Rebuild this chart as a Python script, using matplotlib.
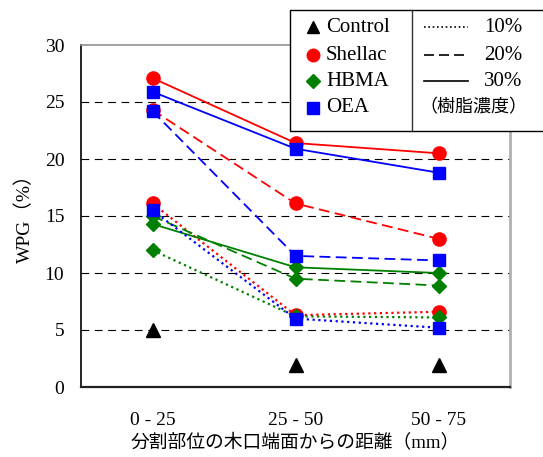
import matplotlib
matplotlib.use("Agg")
import matplotlib.pyplot as plt
from matplotlib.patches import Rectangle
from matplotlib.lines import Line2D

SERIF = "Liberation Serif"
FAM = ["Liberation Serif", "Noto Sans CJK JP"]
plt.rcParams["font.family"] = SERIF

# データ
positions = ["0 - 25", "25 - 50", "50 - 75"]
control = [5.0, 1.9, 1.9]
shellac_10 = [16.1, 6.3, 6.6]
shellac_20 = [24.3, 16.1, 13.0]
shellac_30 = [27.1, 21.4, 20.5]
hbma_10 = [12.0, 6.2, 6.1]
hbma_20 = [15.0, 9.5, 8.9]
hbma_30 = [14.3, 10.5, 10.0]
oea_10 = [15.5, 6.0, 5.2]
oea_20 = [24.2, 11.5, 11.1]
oea_30 = [25.9, 20.9, 18.8]

resins = ["Control", "Shellac", "HBMA", "OEA"]
concs = ["10%", "20%", "30%"]
colors = {"Control": "black", "Shellac": "#ff0000", "HBMA": "#008000", "OEA": "#0000ff"}
markers = {"Control": "^", "Shellac": "o", "HBMA": "D", "OEA": "s"}
msizes = {"Control": 9.5, "Shellac": 9.5, "HBMA": 7.5, "OEA": 8.5}
styles = {"10%": (0, (1, 1.6)), "20%": (0, (6, 3)), "30%": "-"}

series = {
    "Shellac": [shellac_10, shellac_20, shellac_30],
    "HBMA": [hbma_10, hbma_20, hbma_30],
    "OEA": [oea_10, oea_20, oea_30],
}

W, H = 543, 457
fig = plt.figure(figsize=(W / 100, H / 100), dpi=100)
ax = fig.add_axes([81 / W, 1 - 387 / H, (510 - 81) / W, (387 - 45) / H])

x = list(range(len(positions)))

# 格子線
for yv in [5, 10, 15, 20, 25]:
    ax.axhline(yv, color="black", lw=0.8, linestyle=(0, (7, 5)), zorder=1)

ax.plot(x, control, linestyle="none", marker="^", color="black",
        markersize=msizes["Control"], zorder=3)

for name in ["Shellac", "HBMA", "OEA"]:
    for vals, c in zip(series[name], concs):
        lw = 1.6 if c == "10%" else 1.3
        ax.plot(x, vals, linestyle=styles[c], color=colors[name], lw=lw,
                marker=markers[name], markersize=msizes[name], zorder=3)

ax.set_xlim(-0.5, 2.5)
ax.set_ylim(0, 30)
ax.set_yticks([0, 5, 10, 15, 20, 25, 30])
ax.set_xticks(x)
ax.set_xticklabels(positions)
ax.tick_params(axis="both", length=0, labelsize=14)
ax.tick_params(axis="x", pad=18)
ax.tick_params(axis="y", pad=12)

ax.spines["left"].set_color("black")
ax.spines["bottom"].set_color("#222222")
ax.spines["bottom"].set_linewidth(1.6)
ax.spines["left"].set_linewidth(1.2)
ax.spines["right"].set_color("#b0b0b0")
ax.spines["right"].set_linewidth(2)
ax.spines["top"].set_color("#909090")
ax.spines["top"].set_linewidth(1.2)

fig.text(0.5 * (81 + 510) / W, 1 - 443 / H, "分割部位の木口端面からの距離（mm）",
         fontsize=13.5, ha="center", va="center", family=FAM)
fig.text(25 / W, 1 - 214 / H, "WPG（%）", rotation=90, fontsize=14,
         ha="center", va="center", family=FAM)

# 凡例
def fx(px):
    return px / W

def fy(py):
    return 1 - py / H

box = Rectangle((fx(290), fy(131)), fx(560) - fx(290), fy(10) - fy(131),
                transform=fig.transFigure, facecolor="white", edgecolor="black",
                lw=1.0, zorder=5)
fig.add_artist(box)
fig.add_artist(Line2D([fx(412), fx(412)], [fy(10), fy(131)], color="#333333",
                      lw=1.0, transform=fig.transFigure, zorder=6))

rows = [27, 55, 81, 108]
for r, name in zip(rows, resins):
    fig.add_artist(Line2D([fx(313)], [fy(r)], marker=markers[name], linestyle="none",
                          color=colors[name], markersize=msizes[name] * 0.95,
                          transform=fig.transFigure, zorder=6))
    fig.text(fx(326), fy(r), name, fontsize=15, ha="left", va="center", zorder=6)

for r, c in zip(rows[:3], concs):
    fig.add_artist(Line2D([fx(424), fx(468)], [fy(r), fy(r)], linestyle=styles[c],
                          color="black", lw=1.2, transform=fig.transFigure, zorder=6))
    fig.text(fx(522), fy(r), c, fontsize=15, ha="right", va="center", zorder=6)

fig.text(fx(473), fy(rows[3]), "（樹脂濃度）", fontsize=13, ha="center", va="center",
         zorder=6, family=FAM)

fig.savefig("out.png", dpi=100)
